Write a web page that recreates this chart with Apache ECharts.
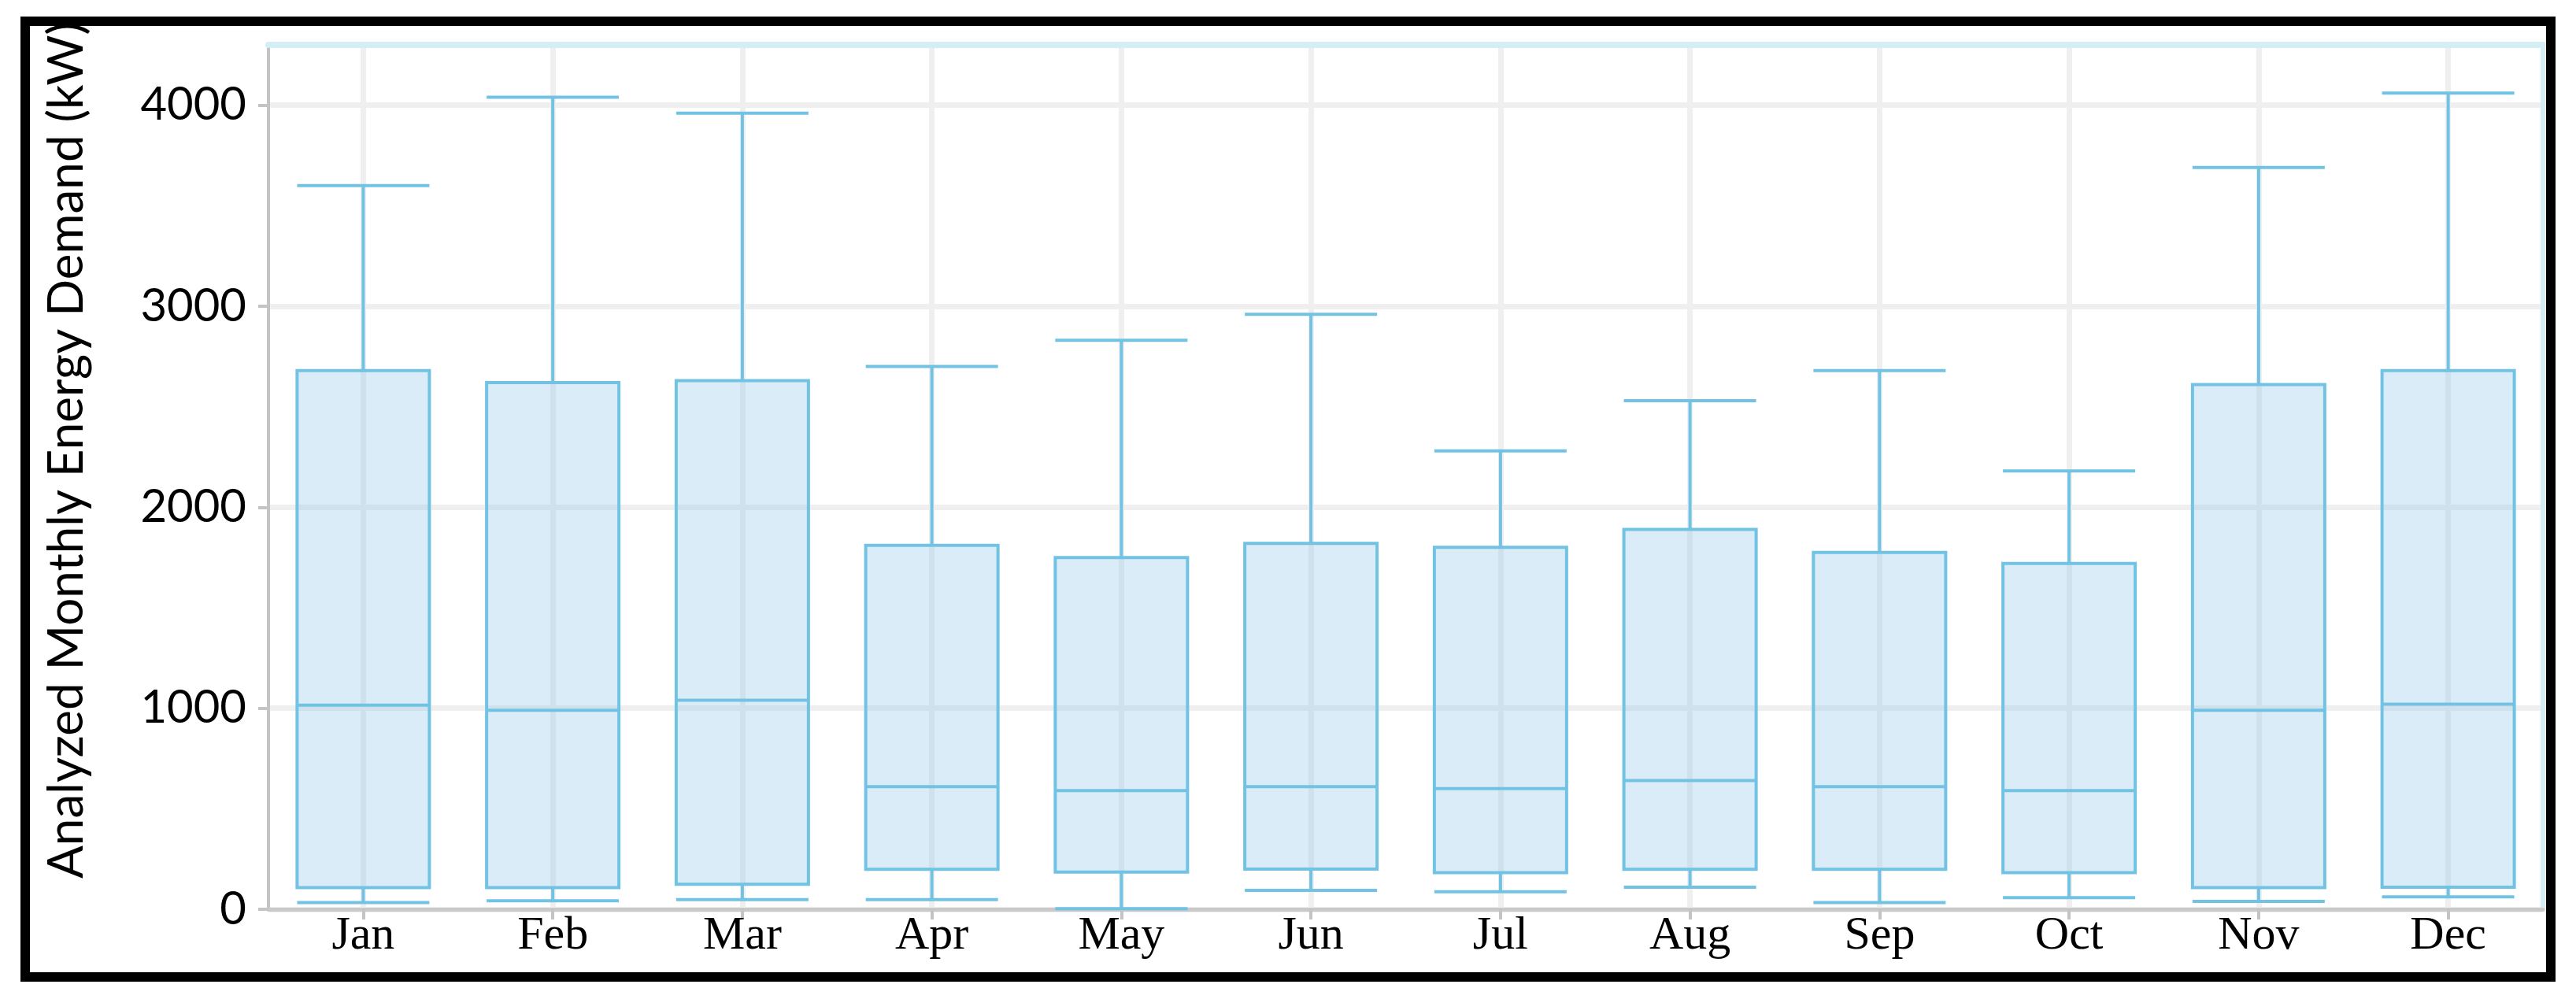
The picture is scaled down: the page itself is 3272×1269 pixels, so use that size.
<!DOCTYPE html>
<html>
<head>
<meta charset="utf-8">
<script src="https://cdn.jsdelivr.net/npm/echarts@6/dist/echarts.min.js"></script>
<style>html,body{margin:0;padding:0;background:#fff;}#c{width:3272px;height:1269px;}</style>
</head>
<body>
<div id="c"></div>
<script>
var months = ['Jan','Feb','Mar','Apr','May','Jun','Jul','Aug','Sep','Oct','Nov','Dec'];
// [min, Q1, median, Q3, max]
var minVals    = [33, 42, 48, 48, 3, 94, 87, 110, 33, 58, 39, 62];
var q1Vals     = [108, 108, 124, 199, 185, 200, 182, 199, 199, 182, 108, 110];
var medianVals = [1015, 990, 1040, 610, 590, 610, 600, 640, 610, 590, 990, 1020];
var q3Vals     = [2680, 2620, 2630, 1810, 1750, 1820, 1800, 1890, 1775, 1720, 2610, 2680];
var maxVals    = [3600, 4040, 3960, 2700, 2830, 2960, 2280, 2530, 2680, 2180, 3690, 4060];
var yTicks = [0, 1000, 2000, 3000, 4000];

var boxData = months.map(function(m, i){
  return [minVals[i], q1Vals[i], medianVals[i], q3Vals[i], maxVals[i]];
});
// helper positions for vertical grid lines at category centres
var halfSteps = [];
for (var k = 0; k <= months.length * 2; k++) halfSteps.push(String(k));

var chart = echarts.init(document.getElementById('c'));
chart.setOption({
  backgroundColor: '#ffffff',
  animation: false,
  grid: { left: 341, right: 42, top: 57, bottom: 114, show: false },
  graphic: [{
    type: 'rect', z: 100,
    shape: { x: 32, y: 27, width: 3208, height: 1214 },
    style: { fill: 'none', stroke: '#000', lineWidth: 12 }
  }],
  xAxis: [{
    type: 'category',
    data: months,
    boundaryGap: true,
    axisLine: { show: true, onZero: false, lineStyle: { color: '#c9c9c9', width: 5 } },
    axisTick: { show: true, alignWithLabel: true, length: 13, lineStyle: { color: '#c4c4c4', width: 4 } },
    axisLabel: { margin: 4, color: '#000', fontFamily: 'Liberation Serif', fontSize: 60 },
    splitLine: { show: false }
  }, {
    type: 'category',
    data: halfSteps,
    boundaryGap: false,
    position: 'top',
    axisLine: { show: true, onZero: false, lineStyle: { color: '#d3eff5', width: 8 } },
    axisTick: { show: false },
    axisLabel: { show: false },
    splitLine: {
      show: true,
      interval: function(idx){ return idx % 2 === 1; },
      lineStyle: { color: '#efefef', width: 7 }
    }
  }],
  yAxis: [{
    type: 'value',
    min: 0, max: 4300, interval: 1000,
    name: 'Analyzed Monthly Energy Demand (kW)',
    nameLocation: 'middle',
    nameGap: 225,
    nameTextStyle: { color: '#000', fontFamily: 'Lato', fontSize: 62, padding: [0, 0, 0, 68] },
    axisLine: { show: true, onZero: false, lineStyle: { color: '#c4c4c4', width: 4 } },
    axisTick: { show: true, length: 13, lineStyle: { color: '#c4c4c4', width: 4 } },
    axisLabel: {
      margin: 28, color: '#000', fontFamily: 'Lato', fontSize: 58,
      showMaxLabel: false,
      formatter: function(v){ return yTicks.indexOf(v) >= 0 ? String(v) : ''; }
    },
    splitLine: { show: true, lineStyle: { color: '#efefef', width: 7 } }
  }, {
    type: 'value',
    position: 'right',
    min: 0, max: 4300,
    axisLine: { show: true, onZero: false, lineStyle: { color: '#d3eff5', width: 6 } },
    axisTick: { show: false },
    axisLabel: { show: false },
    splitLine: { show: false }
  }],
  series: [{
    type: 'boxplot',
    xAxisIndex: 0,
    yAxisIndex: 0,
    data: boxData,
    boxWidth: [168, 168],
    itemStyle: {
      color: 'rgba(150,200,235,0.35)',
      borderColor: '#72c3e3',
      borderWidth: 4
    }
  }]
});
</script>
</body>
</html>
